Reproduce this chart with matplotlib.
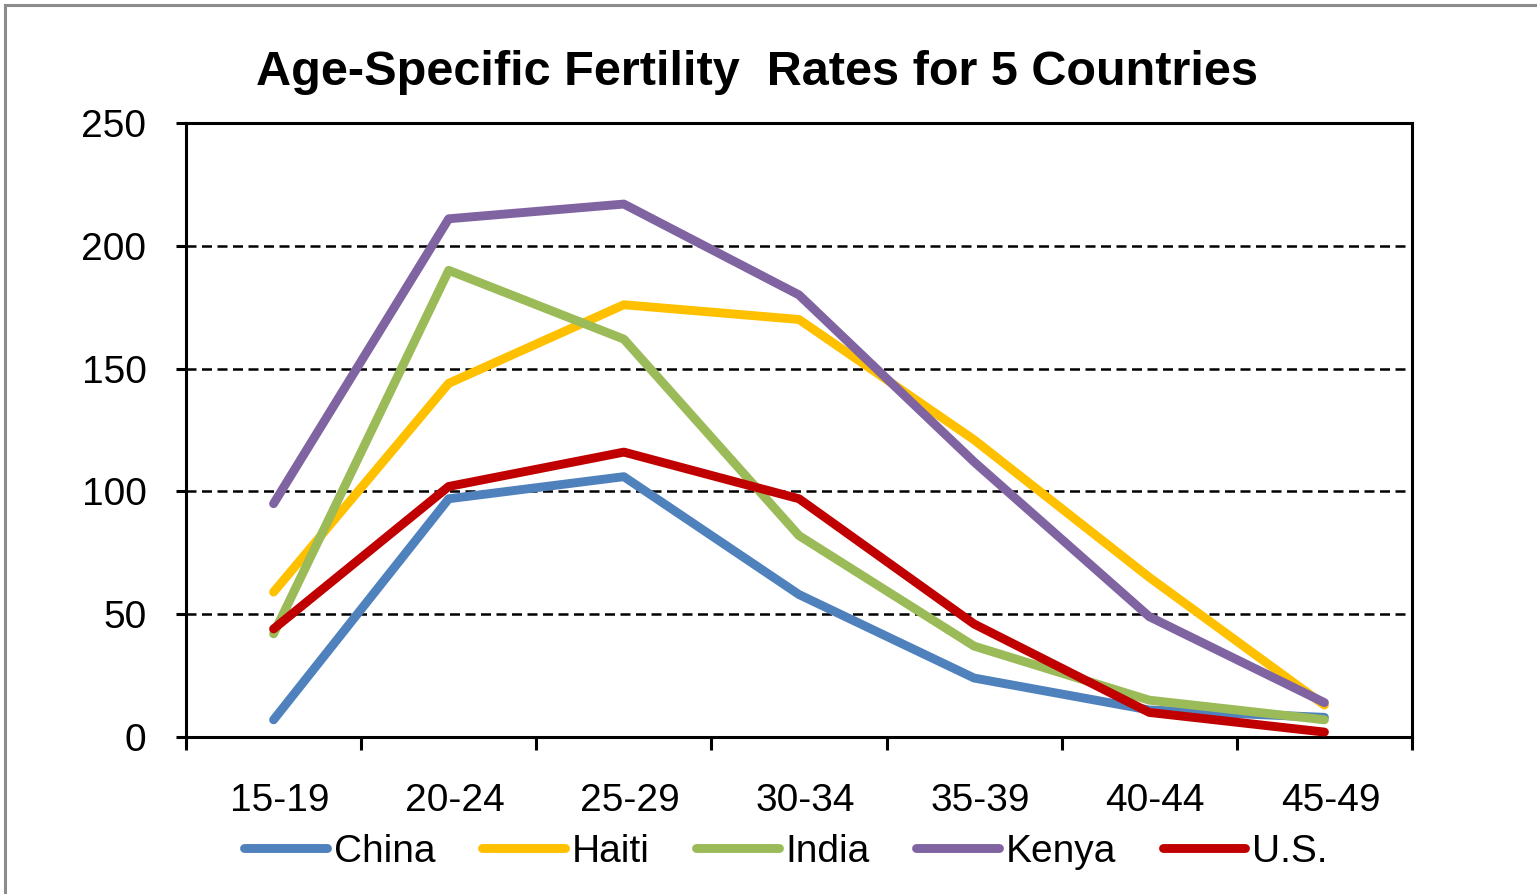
import matplotlib
matplotlib.use('Agg')
import matplotlib.pyplot as plt
import matplotlib.transforms as mtransforms
from matplotlib.lines import Line2D
import numpy as np

plt.rcParams['font.family'] = ['Liberation Sans', 'DejaVu Sans']

age_groups = ['15-19', '20-24', '25-29', '30-34', '35-39', '40-44', '45-49']
china = [7, 97, 106, 58, 24, 11, 8]
haiti = [59, 144, 176, 170, 121, 65, 13]
india = [42, 190, 162, 82, 37, 15, 7]
kenya = [95, 211, 217, 180, 112, 49, 14]
us = [44, 102, 116, 97, 46, 10, 2]

series = [
    ('China', china, '#4F81BD'),
    ('Haiti', haiti, '#FFC000'),
    ('India', india, '#9BBB59'),
    ('Kenya', kenya, '#8064A2'),
    ('U.S.', us, '#C00000'),
]

fig = plt.figure(figsize=(15.37, 8.94), dpi=100)
ax = fig.add_axes([186/1537, 1-737/894, (1412-186)/1537, (737-123)/894])

x = np.arange(len(age_groups))
for name, vals, col in series:
    ax.plot(x, vals, color=col, lw=6.4, solid_capstyle='round',
            solid_joinstyle='round', label=name, zorder=3)

ax.set_xlim(-0.5, len(age_groups) - 0.5)
ax.set_ylim(0, 250)
ax.set_yticks([0, 50, 100, 150, 200, 250])
for y in [50, 100, 150, 200]:
    ax.axhline(y, color='black', lw=1.8, ls=(0, (4, 2.2)), zorder=1)

ax.set_xticks(x)
ax.set_xticklabels(age_groups)
ax.set_xticks(np.arange(-0.5, len(age_groups)), minor=True)
ax.tick_params(axis='x', which='major', length=0, pad=33, labelsize=28)
ax.tick_params(axis='x', which='minor', length=9, width=2.2, direction='out')
ax.tick_params(axis='y', length=7.5, width=2.2, direction='out', pad=21, labelsize=28)
for s in ax.spines.values():
    s.set_linewidth(2.2)
    s.set_color('black')

# category labels sit a little right of the points in the original
shift = mtransforms.ScaledTranslation(6/100, 0, fig.dpi_scale_trans)
for lbl in ax.get_xticklabels():
    lbl.set_transform(lbl.get_transform() + shift)

fig.text(757/1537, 1-85/894, 'Age-Specific Fertility  Rates for 5 Countries',
         ha='center', va='baseline', fontsize=35, fontweight='bold')

handles = [Line2D([], [], color=c, lw=6.4, solid_capstyle='round') for _, _, c in series]
fig.legend(handles, [n for n, _, _ in series], loc='center',
           bbox_to_anchor=(786/1537, 1-852/894), ncol=5, frameon=False,
           fontsize=28, handlelength=2.13, handletextpad=0.18,
           columnspacing=1.19, borderpad=0, borderaxespad=0)

# grey outer frame (top and left edges visible)
fig.add_artist(Line2D([5/1537, 5/1537], [0, 1-5/894], transform=fig.transFigure,
                      color='#8c8c8c', lw=2.2))
fig.add_artist(Line2D([5/1537, 1], [1-5/894, 1-5/894], transform=fig.transFigure,
                      color='#8c8c8c', lw=2.2))

fig.savefig('out.png', dpi=100)
